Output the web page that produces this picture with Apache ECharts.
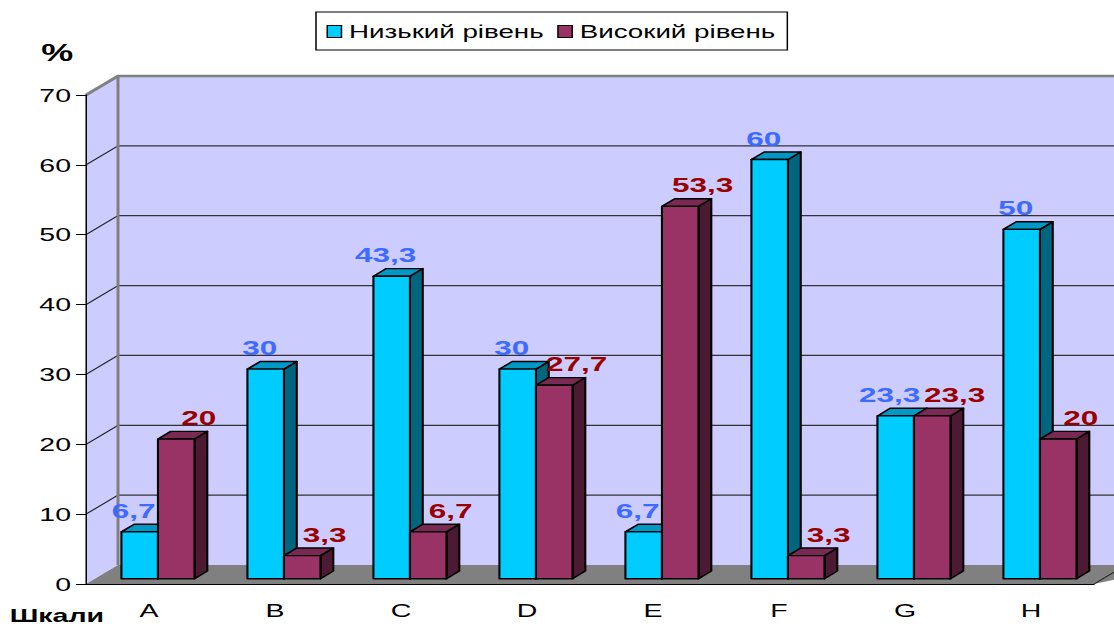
<!DOCTYPE html>
<html>
<head>
<meta charset="utf-8">
<script src="https://cdn.jsdelivr.net/npm/echarts@6/dist/echarts.min.js"></script>
<style>
  html, body { margin: 0; padding: 0; background: #ffffff; overflow: hidden; }
  #wrap { width: 1114px; height: 626px; overflow: hidden; }
  #chart { width: 743px; height: 626px; transform-origin: 0 0; }
</style>
</head>
<body>
<div id="wrap"><div id="chart"></div></div>
<script>
// ---- data ----
const categories = ['A', 'B', 'C', 'D', 'E', 'F', 'G', 'H'];
const lowLevel = [6.7, 30, 43.3, 30, 6.7, 60, 23.3, 50];
const highLevel = [20, 3.3, 6.7, 27.7, 53.3, 3.3, 23.3, 20];
const valueTicks = [0, 10, 20, 30, 40, 50, 60, 70];
const seriesNames = ['Низький рівень', 'Високий рівень'];
const axisTitleY = '%';
const axisTitleX = 'Шкали';

// ---- layout / style ----
const S = 1114 / 743;             // horizontal stretch of the picture
document.getElementById('chart').style.transform = 'scaleX(' + S + ')';
const DX = 32 / S, DY = -19;      // depth vector of the 3D box
const FRONT_DEPTH = 0.28, BAR_DEPTH = 0.4, BAR_FRAC = 0.29;
const FONT = '"Liberation Sans", Arial, sans-serif';
const palette = [
  { front: '#00CCFF', top: '#0099C6', side: '#006680', label: '#3D6BFF', shift: -4 },
  { front: '#993366', top: '#7A2952', side: '#4D1A33', label: '#990000', shift: 15 }
];
const fmt = v => String(v).replace('.', ',');

function wallRender(params, api) {
  const cs = params.coordSys;
  const gx = cs.x, gy = cs.y, gw = cs.width, gh = cs.height;
  const bx = gx + DX, by = gy + DY;
  const children = [];
  children.push({ type: 'rect', shape: { x: bx, y: by, width: gw + 40, height: gh },
    style: { fill: '#CCCCFF' } });
  children.push({ type: 'polygon', shape: { points: [[gx, gy + gh], [gx, gy], [bx, by], [bx, by + gh]] },
    style: { fill: '#CCCCFF' } });
  children.push({ type: 'polygon', shape: { points: [[gx, gy + gh], [bx, by + gh], [bx + gw + 40, by + gh], [gx + gw, gy + gh]] },
    style: { fill: '#808080' } });
  children.push({ type: 'line', shape: { x1: gx + gw, y1: gy + gh, x2: gx + gw + DX, y2: gy + gh + DY },
    style: { stroke: '#222', lineWidth: 1 } });
  valueTicks.forEach(v => {
    if (v === valueTicks[0] || v === valueTicks[valueTicks.length - 1]) return;
    const y = api.coord([0, v])[1];
    children.push({ type: 'line', shape: { x1: bx, y1: y + DY, x2: bx + gw + 40, y2: y + DY },
      style: { stroke: '#333', lineWidth: 1.2 } });
    children.push({ type: 'line', shape: { x1: gx, y1: y, x2: bx, y2: y + DY },
      style: { stroke: '#222', lineWidth: 1 } });
  });
  children.push({ type: 'line', shape: { x1: bx, y1: by, x2: bx, y2: by + gh },
    style: { stroke: '#808080', lineWidth: 2 } });
  children.push({ type: 'polyline', shape: { points: [[gx, gy], [bx, by], [bx + gw + 40, by]] },
    style: { stroke: '#808080', lineWidth: 2.5, fill: null } });
  return { type: 'group', children: children };
}

function barRender(si) {
  const c = palette[si];
  return function (params, api) {
    const idx = api.value(0), val = api.value(1);
    const base = api.coord([idx, 0]);
    const tp = api.coord([idx, val]);
    const band = api.size([1, 0])[0];
    const bw = band * BAR_FRAC;
    const sx = FRONT_DEPTH * DX, sy = FRONT_DEPTH * DY;
    const dx = BAR_DEPTH * DX, dy = BAR_DEPTH * DY;
    const left = base[0] + (si === 0 ? -bw : 0) + sx;
    const right = left + bw;
    const bottom = base[1] + sy;
    const top = tp[1] + sy;
    const ln = { stroke: '#000', lineWidth: 1.4, lineJoin: 'round' };
    return {
      type: 'group',
      children: [
        { type: 'polygon', shape: { points: [[right, top], [right + dx, top + dy], [right + dx, bottom + dy], [right, bottom]] },
          style: Object.assign({ fill: c.side }, ln) },
        { type: 'polygon', shape: { points: [[left, top], [right, top], [right + dx, top + dy], [left + dx, top + dy]] },
          style: Object.assign({ fill: c.top }, ln) },
        { type: 'rect', shape: { x: left, y: top, width: bw, height: bottom - top },
          style: Object.assign({ fill: c.front }, ln) },
        { type: 'text', x: left + bw / 2 + c.shift, y: top + dy - 3,
          style: { text: fmt(val), fill: c.label, font: 'bold 21px ' + FONT,
            textAlign: 'center', textVerticalAlign: 'bottom' } }
      ]
    };
  };
}

const chart = echarts.init(document.getElementById('chart'), null, { renderer: 'svg', width: 743, height: 626 });
chart.setOption({
  animation: false,
  backgroundColor: '#ffffff',
  textStyle: { fontFamily: FONT },
  title: [
    { text: axisTitleY, left: 27.5, top: 40, padding: 0,
      textStyle: { fontSize: 24, fontWeight: 'bold', color: '#000', fontFamily: FONT } },
    { text: axisTitleX, left: 6.5, top: 606, padding: 0,
      textStyle: { fontSize: 19, fontWeight: 'bold', color: '#000', fontFamily: FONT } }
  ],
  legend: {
    left: 316 / S, top: 12,
    padding: [10, 8, 9, 7],
    itemGap: 9, itemWidth: 9.5, itemHeight: 12,
    icon: 'rect',
    borderColor: '#000', borderWidth: 1,
    textStyle: { fontSize: 18.5, color: '#000', fontFamily: FONT },
    data: seriesNames.map((n, i) => ({ name: n, itemStyle: { color: palette[i].front, borderColor: '#000', borderWidth: 1 } }))
  },
  grid: { left: 86 / S, right: 20 / S, top: 95, bottom: 42 },
  xAxis: {
    type: 'category', data: categories, z: 5,
    axisLine: { lineStyle: { color: '#000', width: 1 } },
    axisTick: { length: 9, lineStyle: { color: '#000' } },
    axisLabel: { fontSize: 19, color: '#000', margin: 17, fontFamily: FONT },
    splitLine: { show: false }
  },
  yAxis: {
    type: 'value', min: valueTicks[0], max: valueTicks[valueTicks.length - 1], interval: valueTicks[1] - valueTicks[0], z: 5,
    axisLine: { show: true, lineStyle: { color: '#000', width: 1 } },
    axisTick: { show: true, length: 6.7, lineStyle: { color: '#000' } },
    axisLabel: { fontSize: 19, color: '#000', margin: 10, fontFamily: FONT },
    splitLine: { show: false }
  },
  series: [
    { type: 'custom', name: '_walls', silent: true, z: 1, renderItem: wallRender, data: [[0, 0]], legendHoverLink: false },
    { type: 'custom', name: seriesNames[0], z: 2, renderItem: barRender(0),
      itemStyle: { color: palette[0].front, borderColor: '#000', borderWidth: 1 },
      data: lowLevel.map((v, i) => [i, v]) },
    { type: 'custom', name: seriesNames[1], z: 2, renderItem: barRender(1),
      itemStyle: { color: palette[1].front, borderColor: '#000', borderWidth: 1 },
      data: highLevel.map((v, i) => [i, v]) }
  ]
});
</script>
</body>
</html>
